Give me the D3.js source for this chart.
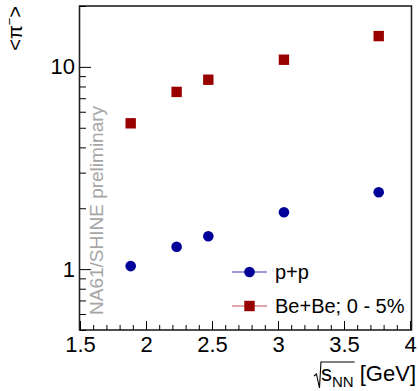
<!DOCTYPE html>
<meta charset="utf-8">
<style>
    body { margin: 0; background: #fff; }
    svg text { font-family: "Liberation Sans", Arial, sans-serif; }
    .axis path, .axis line { stroke: #000; }
</style>
<body>
<svg width="418" height="391"></svg>
<script src="https://cdn.jsdelivr.net/npm/d3@7"></script>
<script>

    // sqrt(s_NN) positions (as plotted) and mean pi- multiplicities
    var energies = [1.884, 2.232, 2.472, 3.045, 3.763];
    var ppValues = [1.035, 1.29, 1.455, 1.91, 2.40];
    var beValues = [5.26, 7.52, 8.64, 10.85, 14.2];

    var xMajor = [1.5, 2, 2.5, 3, 3.5, 4];
    var yMajor = [1, 10];
    var yMinor = [0.5, 0.6, 0.7, 0.8, 0.9, 2, 3, 4, 5, 6, 7, 8, 9, 20];

    var series = [
        {name: "p+p", values: ppValues, color: "#000099", line: "#3b3bb0", shape: "circle"},
        {name: "Be+Be; 0 - 5%", values: beValues, color: "#990000", line: "#c05050", shape: "square"}
    ];

    var padL = 80, padR = 410, padT = 6, padB = 330;

    var svg = d3.select("svg");

    var x = d3.scaleLinear().domain([1.5, 4]).range([padL, padR]);
    var y = d3.scaleLog().domain([0.5, 20]).range([padB, padT]);

    var xMinor = d3.range(15, 41).map(function(d) { return d / 10; })
        .filter(function(d) { return xMajor.indexOf(d) < 0; });

    // frame
    svg.append("rect")
        .attr("x", padL - 0.5).attr("y", padT)
        .attr("width", padR - padL + 2).attr("height", padB - padT)
        .attr("fill", "none").attr("stroke", "#222").attr("stroke-width", 1.6);

    // x axis
    svg.append("g").attr("class", "axis")
        .attr("transform", "translate(0," + padB + ")")
        .call(d3.axisBottom(x).tickValues(xMinor).tickSize(-5).tickFormat(""))
        .call(function(g) { g.select(".domain").remove(); });

    svg.append("g").attr("class", "axis")
        .attr("transform", "translate(0," + padB + ")")
        .call(d3.axisBottom(x).tickValues(xMajor).tickSize(-9).tickPadding(6)
            .tickFormat(function(d) { return d; }))
        .call(function(g) {
            g.select(".domain").remove();
            g.selectAll("text").attr("font-size", 22).attr("fill", "#000")
                .attr("font-family", "Liberation Sans, Arial, sans-serif");
        });

    // y axis
    svg.append("g").attr("class", "axis")
        .attr("transform", "translate(" + padL + ",0)")
        .call(d3.axisLeft(y).tickValues(yMinor).tickSize(-6).tickFormat(""))
        .call(function(g) { g.select(".domain").remove(); });

    svg.append("g").attr("class", "axis")
        .attr("transform", "translate(" + padL + ",0)")
        .call(d3.axisLeft(y).tickValues(yMajor).tickSize(-11).tickPadding(5)
            .tickFormat(function(d) { return d; }))
        .call(function(g) {
            g.select(".domain").remove();
            g.selectAll("text").attr("font-size", 22).attr("fill", "#000")
                .attr("font-family", "Liberation Sans, Arial, sans-serif");
        });

    // watermark
    svg.append("text")
        .attr("transform", "translate(103,315) rotate(-90)")
        .attr("font-size", 19)
        .attr("fill", "#a6a6a6")
        .text("NA61/SHINE preliminary");

    // markers
    series.forEach(function(s) {
        var pts = energies.map(function(e, i) { return {x: e, y: s.values[i]}; });
        var g = svg.append("g");
        if (s.shape === "circle") {
            g.selectAll("circle").data(pts).enter().append("circle")
                .attr("cx", function(d) { return x(d.x); })
                .attr("cy", function(d) { return y(d.y); })
                .attr("r", 5.3)
                .attr("fill", s.color);
        } else {
            g.selectAll("rect").data(pts).enter().append("rect")
                .attr("x", function(d) { return x(d.x) - 5.2; })
                .attr("y", function(d) { return y(d.y) - 5.2; })
                .attr("width", 10.4).attr("height", 10.4)
                .attr("fill", s.color);
        }
    });

    // legend
    var legend = svg.append("g").attr("transform", "translate(232,272)");
    series.forEach(function(s, i) {
        var row = legend.append("g").attr("transform", "translate(0," + (i * 34) + ")");
        row.append("line").attr("x1", 0).attr("x2", 35).attr("y1", 0).attr("y2", 0)
            .attr("stroke", s.line).attr("stroke-width", 1.2);
        if (s.shape === "circle") {
            row.append("circle").attr("cx", 17.5).attr("cy", 0).attr("r", 5.3).attr("fill", s.color);
        } else {
            row.append("rect").attr("x", 12.3).attr("y", -5.2).attr("width", 10.4).attr("height", 10.4)
                .attr("fill", s.color);
        }
        row.append("text").attr("x", 43).attr("y", 7)
            .attr("font-size", 20)
            .text(s.name);
    });

    // y title: <pi->
    var yt = svg.append("text")
        .attr("transform", "translate(22,6) rotate(-90)")
        .attr("text-anchor", "end")
        .attr("font-size", 20);
    yt.append("tspan").text("<\u03C0");
    yt.append("tspan").attr("dy", -8).attr("font-size", 13).text("\u2212");
    yt.append("tspan").attr("dy", 8).text(">");

    // x title: sqrt(s_NN) [GeV]
    var xt = svg.append("text")
        .attr("x", 416).attr("y", 381)
        .attr("text-anchor", "end")
        .attr("font-size", 22);
    var sT = xt.append("tspan").text("s");
    xt.append("tspan").attr("dy", 6).attr("font-size", 15).text("NN");
    xt.append("tspan").attr("dy", -6).text(" [GeV]");

    var sBox = sT.node().getExtentOfChar(0);
    var nnEnd = xt.node().getEndPositionOfChar(2);
    var sx = sBox.x;
    svg.append("path")
        .attr("d", "M" + (sx - 7) + ",376 L" + (sx - 4.5) + ",374 L" + (sx - 1.5) + ",388 L" + (sx) + ",362 L" + (nnEnd.x + 1) + ",362")
        .attr("fill", "none").attr("stroke", "#000").attr("stroke-width", 1.1);

</script>
</body>
